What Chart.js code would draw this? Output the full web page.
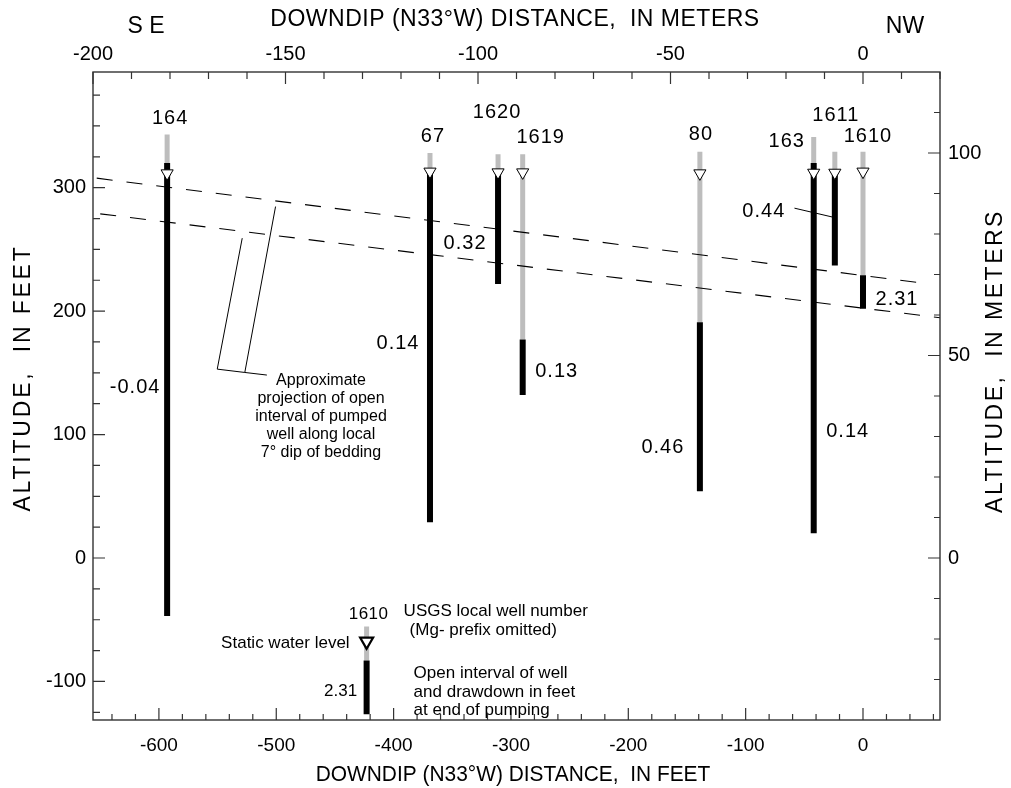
<!DOCTYPE html>
<html><head><meta charset="utf-8">
<script src="https://cdn.jsdelivr.net/npm/chart.js@4.4.1/dist/chart.umd.min.js"></script>
<style>html,body{margin:0;padding:0;background:#fff;}canvas{display:block;}</style>
</head><body>
<canvas id="c" width="1011" height="788"></canvas>
<script>
// ---------------- DATA ----------------
const wellIds       = ['164', '67', '1620', '1619', '80', '163', '1611', '1610'];
const wellDistFt    = [-593, -369, -311, -290, -139, -42, -24, 0];      // downdip distance, feet
const landSurfaceFt = [343, 328, 327, 327, 329, 341, 329, 329];         // top of gray (cased) part
const openTopFt     = [320, 312, 312, 177, 191, 320, 312, 229];         // top of open interval
const openBottomFt  = [-47, 29, 222, 132, 54, 20, 237, 202];            // bottom of open interval
const waterLevelFt  = [311.6, 313, 312.4, 312.4, 311.6, 312.1, 312.1, 313];
const drawdownLabels = ['-0.04', '0.14', '0.32', '0.13', '0.46', '0.14', '0.44', '2.31'];

// projection of pumped-well open interval along 7 degree dip (endpoints, feet)
const dipUpperX = [-653, 56],  dipUpperY = [307.7, 222.1];
const dipLowerX = [-650, 66],  dipLowerY = [278.8, 194.6];
// sketch lines of the "approximate projection" note (feet)
const projOuterX = [-500.6, -526.8, -508], projOuterY = [284.7, 150.3, 148.2];
const projInnerX = [-529, -550.3, -526.8], projInnerY = [259.1, 153.0, 150.3];
// leader line for 0.44 label
const leaderX = [-58.4, -25.6], leaderY = [283.4, 276.1];

// legend well (explanation)
const legendWellX = [-423];
const legendLand = [-55.5], legendOpenTop = [-83.1], legendOpenBottom = [-126.5], legendWater = [-67.5];
const legendId = '1610', legendDrawdown = '2.31';

// axes
const xFeetRange = [-656.17, 65.62];    // = -200 .. 20 m
const xMeterRange = [-200, 20];
const yFeetRange = [-131.23, 393.7];    // = -40 .. 120 m
const yMeterRange = [-40, 120];
const xFeetTicks = [-600, -500, -400, -300, -200, -100, 0];
const xMeterTicks = [-200, -150, -100, -50, 0];
const yFeetTicks = [-100, 0, 100, 200, 300];
const yMeterTicks = [0, 50, 100];

// ---------------- LAYOUT / STYLE ----------------
const FONT = '"Liberation Sans", Arial, Helvetica, sans-serif';
const wellLabelOffset = [ // px relative to bar x / land-surface top
  {dx: 3, dy: -16}, {dx: 3, dy: -17}, {dx: -1, dy: -42}, {dx: 18, dy: -17},
  {dx: 1, dy: -17}, {dx: -27, dy: 4}, {dx: 1, dy: -36}, {dx: 5, dy: -15}];
const drawLabelPos = [ // dx px from bar, altitude of label centre (ft)
  {dx: -32, alt: 137.9}, {dx: -32, alt: 173.5}, {dx: -33, alt: 254.5}, {dx: 34, alt: 150.9},
  {dx: -37, alt: 89.3}, {dx: 34, alt: 102.3}, {dx: -71, alt: 280.6}, {dx: 34, alt: 209.7}];

const pts = (xs, ys) => xs.map((x, i) => ({x, y: ys[i]}));
const datasets = [];
const base = {pointRadius: 0, fill: false, tension: 0, xAxisID: 'x', yAxisID: 'y'};

// water level triangles
datasets.push({...base, data: pts(wellDistFt, waterLevelFt), showLine: false, pointStyle: 'triangle',
  rotation: 180, pointRadius: 7, pointBackgroundColor: '#fff', pointBorderColor: '#000', pointBorderWidth: 1, order: 0});
datasets.push({...base, data: pts(legendWellX, legendWater), showLine: false, pointStyle: 'triangle',
  rotation: 180, pointRadius: 7.5, pointBackgroundColor: '#fff', pointBorderColor: '#000', pointBorderWidth: 2.2, order: 0});
// dip lines
[[dipUpperX, dipUpperY], [dipLowerX, dipLowerY]].forEach(([xs, ys]) =>
  datasets.push({...base, data: pts(xs, ys), borderColor: '#000', borderWidth: 1.1, borderDash: [16, 14], order: 1}));
// sketch + leader lines
[[projOuterX, projOuterY], [projInnerX, projInnerY], [leaderX, leaderY]].forEach(([xs, ys]) =>
  datasets.push({...base, data: pts(xs, ys), borderColor: '#000', borderWidth: 1, order: 1}));
// open intervals (black)
wellDistFt.concat(legendWellX).forEach((x, i) => {
  const top = i < wellDistFt.length ? openTopFt[i] : legendOpenTop[0];
  const bot = i < wellDistFt.length ? openBottomFt[i] : legendOpenBottom[0];
  datasets.push({...base, data: [{x, y: top}, {x, y: bot}], borderColor: '#000', borderWidth: 6, borderCapStyle: 'butt', order: 2});
});
// cased parts (gray)
wellDistFt.concat(legendWellX).forEach((x, i) => {
  const top = i < wellDistFt.length ? landSurfaceFt[i] : legendLand[0];
  const bot = i < wellDistFt.length ? openTopFt[i] : legendOpenTop[0];
  datasets.push({...base, data: [{x, y: top}, {x, y: bot}], borderColor: '#bdbdbd', borderWidth: 5, borderCapStyle: 'butt', order: 3});
});

function txt(ctx, s, x, y, o = {}) {
  ctx.save();
  ctx.font = (o.size || 20) + 'px ' + FONT;
  ctx.fillStyle = '#000';
  ctx.textAlign = o.align || 'center';
  ctx.textBaseline = 'middle';
  if ('letterSpacing' in ctx) ctx.letterSpacing = (o.sp || 0) + 'px';
  ctx.translate(x, y);
  if (o.rot) ctx.rotate(o.rot);
  if (o.sx) ctx.scale(o.sx, 1);
  ctx.fillText(s, 0, 0);
  ctx.restore();
}

const overlay = {
  id: 'overlay',
  afterDatasetsDraw(chart) {
    const ctx = chart.ctx, a = chart.chartArea, s = chart.scales;
    ctx.save();
    ctx.strokeStyle = '#333'; ctx.lineWidth = 1.4;
    ctx.strokeRect(a.left, a.top, a.right - a.left, a.bottom - a.top);
    ctx.lineWidth = 1.2;
    ctx.beginPath();
    for (let v = -640; v <= 60; v += 20) { // bottom, feet
      const p = s.x.getPixelForValue(v), L = v % 100 === 0 ? 12 : 6;
      ctx.moveTo(p, a.bottom); ctx.lineTo(p, a.bottom - L);
    }
    for (let v = -200; v <= 20; v += 10) { // top, meters
      const p = s.xm.getPixelForValue(v), L = v % 50 === 0 ? 12 : 7;
      ctx.moveTo(p, a.top); ctx.lineTo(p, a.top + L);
    }
    for (let v = -125; v <= 375; v += 25) { // left, feet
      const p = s.y.getPixelForValue(v), L = v % 100 === 0 ? 12 : 7;
      ctx.moveTo(a.left, p); ctx.lineTo(a.left + L, p);
    }
    for (let v = -30; v <= 110; v += 10) { // right, meters
      const p = s.ym.getPixelForValue(v), L = v % 50 === 0 ? 12 : 6;
      ctx.moveTo(a.right, p); ctx.lineTo(a.right - L, p);
    }
    ctx.stroke();
    ctx.restore();
  },
  afterDraw(chart) {
    const ctx = chart.ctx, s = chart.scales;
    // titles
    txt(ctx, 'DOWNDIP (N33°W) DISTANCE,  IN METERS', 515, 20, {size: 23, sp: 0.5});
    txt(ctx, 'S E', 146, 27, {size: 23});
    txt(ctx, 'NW', 905, 27, {size: 23});
    txt(ctx, 'DOWNDIP (N33°W) DISTANCE,  IN FEET', 513, 775, {size: 22, sx: 0.95});
    txt(ctx, 'ALTITUDE,  IN FEET', 24, 378, {size: 23, sp: 2.8, rot: -Math.PI / 2});
    txt(ctx, 'ALTITUDE,  IN METERS', 996, 361, {size: 23, sp: 2.5, rot: -Math.PI / 2});
    // well labels & drawdowns
    wellIds.forEach((id, i) => {
      const px = s.x.getPixelForValue(wellDistFt[i]);
      const py = s.y.getPixelForValue(landSurfaceFt[i]);
      txt(ctx, id, px + wellLabelOffset[i].dx, py + wellLabelOffset[i].dy, {size: 20, sp: 1});
      const d = drawLabelPos[i];
      txt(ctx, drawdownLabels[i], px + d.dx, s.y.getPixelForValue(d.alt), {size: 20, sp: 1});
    });
    // projection note
    const note = ['Approximate', 'projection of open', 'interval of pumped', 'well along local', '7° dip of bedding'];
    note.forEach((l, i) => txt(ctx, l, 321, 381 + i * 18, {size: 16}));
    // legend
    const lx = s.x.getPixelForValue(legendWellX[0]);
    const ly = s.y.getPixelForValue(legendLand[0]);
    txt(ctx, legendId, lx + 2, ly - 12, {size: 17, sp: 0.5});
    txt(ctx, 'USGS local well number', lx + 37, ly - 15, {size: 17, align: 'left'});
    txt(ctx, '(Mg- prefix omitted)', lx + 43, ly + 4, {size: 17, align: 'left'});
    txt(ctx, 'Static water level', lx - 17, s.y.getPixelForValue(legendWater[0]) + 2, {size: 17, align: 'right'});
    txt(ctx, legendDrawdown, lx - 26, ly + 65, {size: 17});
    ['Open interval of well', 'and drawdown in feet', 'at end of pumping'].forEach((l, i) =>
      txt(ctx, l, lx + 47, ly + 47 + i * 18.5, {size: 17, align: 'left'}));
  }
};

const tickFont = {family: FONT, size: 20};
new Chart(document.getElementById('c'), {
  type: 'line',
  data: {datasets},
  options: {
    responsive: false, animation: false, events: [],
    layout: {padding: 0},
    plugins: {legend: {display: false}, tooltip: {enabled: false}},
    scales: {
      x: {type: 'linear', position: 'bottom', min: xFeetRange[0], max: xFeetRange[1],
        afterBuildTicks: sc => { sc.ticks = xFeetTicks.map(v => ({value: v})); },
        ticks: {font: {family: FONT, size: 19}, color: '#000', padding: 14, maxRotation: 0, autoSkip: false},
        grid: {display: false, drawTicks: false}, border: {display: false},
        afterFit: sc => { sc.height = 68; }},
      xm: {type: 'linear', position: 'top', min: xMeterRange[0], max: xMeterRange[1],
        afterBuildTicks: sc => { sc.ticks = xMeterTicks.map(v => ({value: v})); },
        ticks: {font: tickFont, color: '#000', padding: 6, maxRotation: 0, autoSkip: false},
        grid: {display: false, drawTicks: false}, border: {display: false},
        afterFit: sc => { sc.height = 72; }},
      y: {type: 'linear', position: 'left', min: yFeetRange[0], max: yFeetRange[1],
        afterBuildTicks: sc => { sc.ticks = yFeetTicks.map(v => ({value: v})); },
        ticks: {font: tickFont, color: '#000', padding: 7, autoSkip: false},
        grid: {display: false, drawTicks: false}, border: {display: false},
        afterFit: sc => { sc.width = 93; }},
      ym: {type: 'linear', position: 'right', min: yMeterRange[0], max: yMeterRange[1],
        afterBuildTicks: sc => { sc.ticks = yMeterTicks.map(v => ({value: v})); },
        ticks: {font: tickFont, color: '#000', padding: 8, autoSkip: false},
        grid: {display: false, drawTicks: false}, border: {display: false},
        afterFit: sc => { sc.width = 71; }}
    }
  },
  plugins: [overlay]
});
</script>
</body></html>
